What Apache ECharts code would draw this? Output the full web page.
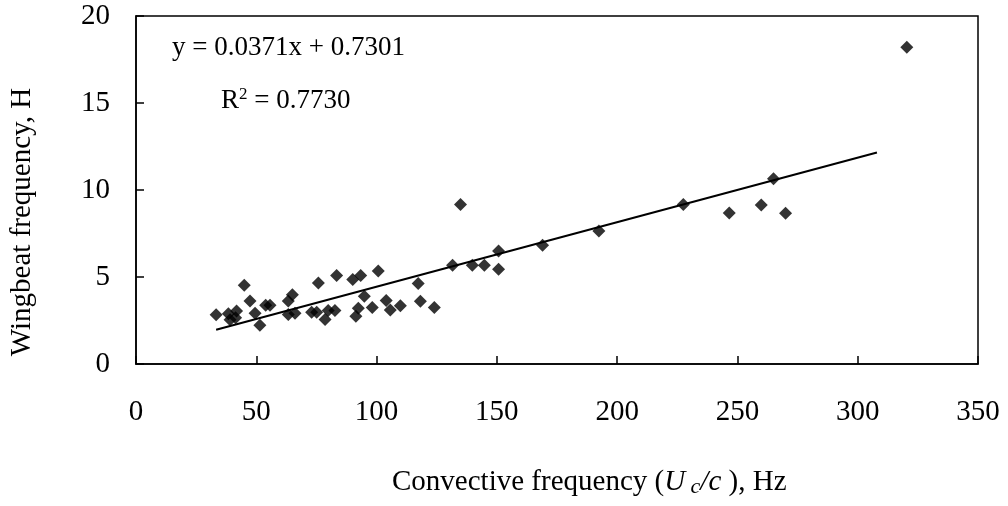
<!DOCTYPE html>
<html>
<head>
<meta charset="utf-8">
<script src="https://cdn.jsdelivr.net/npm/echarts@6/dist/echarts.min.js"></script>
<style>
html,body{margin:0;padding:0;background:#fff;}
#chart{width:1008px;height:506px;}
</style>
</head>
<body>
<div id="chart"></div>
<script>
// Convective frequency (Hz) and wingbeat frequency values
var convFreq = [33.3, 38.4, 39.1, 41.4, 41.8, 45.0, 47.4, 49.5, 51.5, 53.9, 55.7,
  63.3, 63.3, 65.0, 66.1, 73.0, 75.1, 75.8, 78.6, 79.9, 82.7, 83.4, 90.1, 91.4,
  92.4, 93.4, 94.9, 98.2, 100.7, 104.0, 105.7, 109.9, 117.3, 118.2, 124.0,
  131.6, 134.9, 139.8, 144.8, 150.7, 150.7, 169.0, 192.4, 227.5, 246.6, 259.9,
  265.0, 270.0, 320.4];
var wingFreq = [2.83, 2.89, 2.54, 2.66, 3.04, 4.52, 3.62, 2.92, 2.22, 3.37, 3.37,
  2.85, 3.62, 3.98, 2.92, 2.98, 2.98, 4.65, 2.56, 3.08, 3.08, 5.08, 4.86, 2.75,
  3.21, 5.09, 3.90, 3.25, 5.34, 3.65, 3.10, 3.35, 4.63, 3.60, 3.25,
  5.67, 9.16, 5.67, 5.67, 6.49, 5.44, 6.82, 7.64, 9.16, 8.68, 9.14,
  10.64, 8.66, 18.2];
// Trend line end points (y = 0.0371x + 0.7301)
var trendX = [33.3, 308];
var trendY = [1.97, 12.16];
var xTicks = [0, 50, 100, 150, 200, 250, 300, 350];
var yTicks = [0, 5, 10, 15, 20];
var equationText = 'y = 0.0371x + 0.7301';
var r2Value = '0.7730';
var xTitle = 'Convective frequency';
var yTitle = 'Wingbeat frequency, H';

var FONT = "'Times New Roman', 'Liberation Serif', serif";
var chart = echarts.init(document.getElementById('chart'), null, {renderer: 'canvas'});

var points = convFreq.map(function (x, i) { return [x, wingFreq[i]]; });
var trend = trendX.map(function (x, i) { return [x, trendY[i]]; });

chart.setOption({
  backgroundColor: '#fff',
  animation: false,
  grid: {left: 136, right: 30, top: 16, bottom: 142, show: true, borderColor: '#000', borderWidth: 1.5, backgroundColor: 'transparent'},
  xAxis: {
    type: 'value', min: xTicks[0], max: xTicks[xTicks.length - 1], interval: xTicks[1] - xTicks[0],
    axisLine: {show: true, lineStyle: {color: '#000', width: 1.5}},
    axisTick: {show: true, inside: true, length: 8, lineStyle: {color: '#000', width: 1.5}},
    splitLine: {show: false},
    axisLabel: {color: '#000', fontFamily: FONT, fontSize: 29, margin: 34}
  },
  yAxis: {
    type: 'value', min: yTicks[0], max: yTicks[yTicks.length - 1], interval: yTicks[1] - yTicks[0],
    axisLine: {show: true, lineStyle: {color: '#000', width: 1.5}},
    axisTick: {show: true, inside: true, length: 8, lineStyle: {color: '#000', width: 1.5}},
    splitLine: {show: false},
    axisLabel: {color: '#000', fontFamily: FONT, fontSize: 29, margin: 26}
  },
  series: [
    {
      type: 'scatter', data: points, symbol: 'diamond', symbolSize: 13,
      itemStyle: {color: '#000'}, z: 3
    },
    {
      type: 'line', data: trend, showSymbol: false, symbol: 'none',
      lineStyle: {color: '#000', width: 2}, z: 2
    }
  ],
  graphic: [
    {
      type: 'text', left: 172, top: 34,
      style: {text: equationText, fill: '#000', font: '27px ' + FONT}
    },
    {
      type: 'text', left: 221, top: 86,
      style: {
        text: 'R{sup|2} = ' + r2Value,
        fill: '#000', font: '27px ' + FONT,
        rich: {sup: {fontSize: 17, fontFamily: FONT, verticalAlign: 'top', padding: [0, 0, 12, 0]}}
      }
    },
    {
      type: 'text', x: 22, y: 222, rotation: Math.PI / 2,
      style: {text: yTitle, fill: '#000', font: '29px ' + FONT, align: 'center', verticalAlign: 'middle'}
    },
    {
      type: 'text', left: 392, top: 468,
      style: {
        text: xTitle + ' ({i|U}{sub| c}{i|/c} ), Hz',
        fill: '#000', font: '29px ' + FONT,
        rich: {
          i: {fontStyle: 'italic', fontSize: 29, fontFamily: FONT},
          sub: {fontStyle: 'italic', fontSize: 22, fontFamily: FONT, padding: [10, 0, 0, 0]}
        }
      }
    }
  ]
});
</script>
</body>
</html>
